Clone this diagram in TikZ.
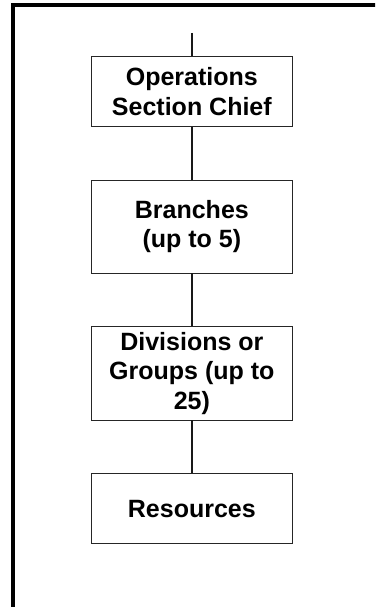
\documentclass[tikz,border=0pt]{standalone}
\usepackage{fontspec}
\setmainfont{Liberation Sans}
\begin{document}
\begin{tikzpicture}[x=1pt,y=1pt,
  box/.style={draw=black!85, line width=0.9pt, minimum width=201.7pt, inner sep=0pt,
    align=center, font=\fontsize{25}{29.5}\selectfont\bfseries},
  conn/.style={draw=black!90, line width=2.3pt}]
\useasboundingbox (0,0) rectangle (375,-607);
\clip (0,0) rectangle (375,-607);
\fill[white] (0,0) rectangle (375,-607);
\draw[line width=3.8pt] (13,-650) -- (13,-5.2) -- (420,-5.2);
\node[box, minimum height=70.7pt] (ops) at (191.85,-91.35) {Operations\\Section Chief};
\node[box, minimum height=92.7pt] (br) at (191.85,-226.65) {Branches\\(up to 5)};
\node[box, minimum height=93.3pt] (div) at (191.85,-373.35) {Divisions or\\Groups (up to\\25)};
\node[box, minimum height=70pt] (res) at (191.85,-508.7) {Resources};
\coordinate (topend) at (191.85,-33);
\draw[conn] (topend) -- (ops.north);
\draw[conn] (ops.south) -- (br.north);
\draw[conn] (br.south) -- (div.north);
\draw[conn] (div.south) -- (res.north);
\end{tikzpicture}
\end{document}
